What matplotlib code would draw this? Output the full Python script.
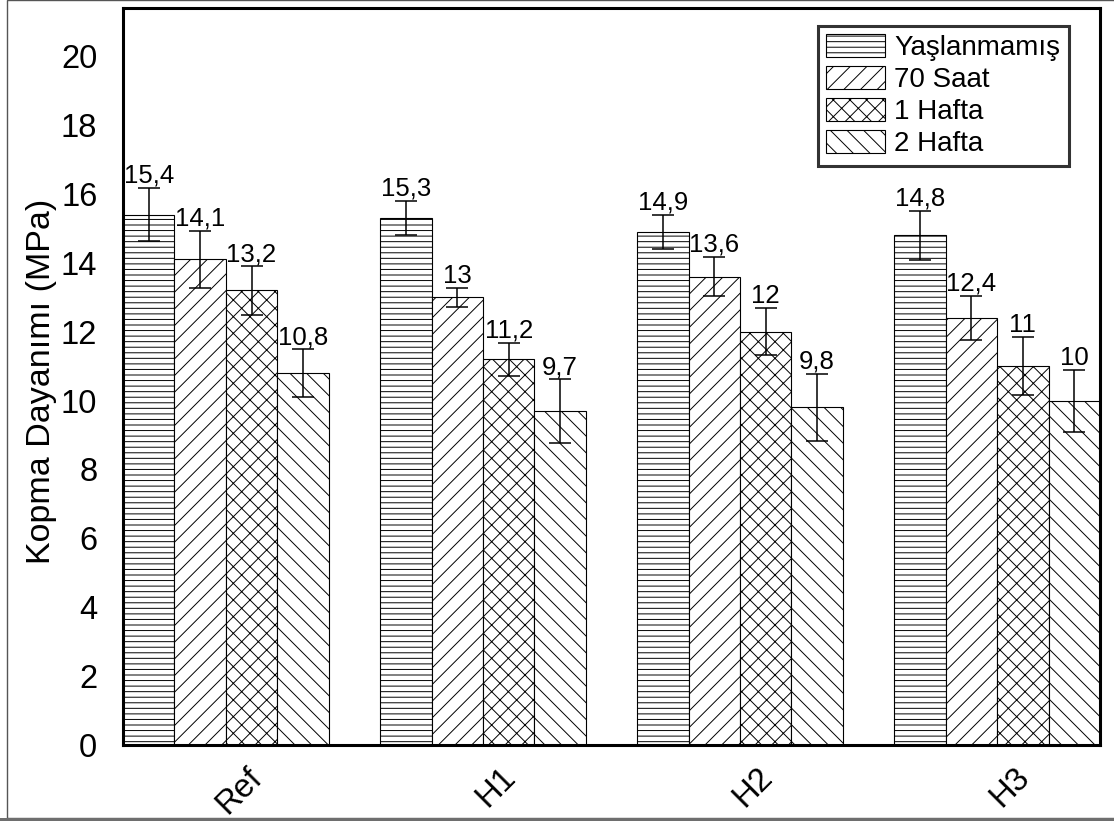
import matplotlib
matplotlib.use("Agg")
import matplotlib.pyplot as plt
import matplotlib.transforms as mtransforms
from matplotlib.patches import Rectangle
import numpy as np

plt.rcParams['font.family'] = ['Liberation Sans', 'DejaVu Sans']
plt.rcParams['hatch.linewidth'] = 0.7

# Data
groups = ['Ref', 'H1', 'H2', 'H3']
series = ['Yaşlanmamış', '70 Saat', '1 Hafta', '2 Hafta']
yaslanmamis = [15.4, 15.3, 14.9, 14.8]
saat_70 = [14.1, 13.0, 13.6, 12.4]
hafta_1 = [13.2, 11.2, 12.0, 11.0]
hafta_2 = [10.8, 9.7, 9.8, 10.0]
err_yaslanmamis = [0.78, 0.50, 0.50, 0.72]
err_saat_70 = [0.83, 0.27, 0.57, 0.65]
err_hafta_1 = [0.70, 0.48, 0.68, 0.85]
err_hafta_2 = [0.69, 0.92, 0.98, 0.90]
value_labels = [
    ['15,4', '15,3', '14,9', '14,8'],
    ['14,1', '13', '13,6', '12,4'],
    ['13,2', '11,2', '12', '11'],
    ['10,8', '9,7', '9,8', '10'],
]
y_ticks = [0, 2, 4, 6, 8, 10, 12, 14, 16, 18, 20]

values = [yaslanmamis, saat_70, hafta_1, hafta_2]
errors = [err_yaslanmamis, err_saat_70, err_hafta_1, err_hafta_2]
hatches = ['---', '//', 'xx', '\\\\']

W, H = 1114, 821
fig = plt.figure(figsize=(W / 100, H / 100), dpi=100)
ax = fig.add_axes([123 / W, 76 / H, 977 / W, 737 / H])

x = np.arange(len(groups))
width = 0.2
for i, (vals, errs, hatch, name) in enumerate(zip(values, errors, hatches, series)):
    pos = x - 0.3 + i * width
    ax.bar(pos, vals, width, color='white', edgecolor='black', linewidth=0.8,
           hatch=hatch, label=name, zorder=2)
    ax.errorbar(pos, vals, yerr=errs, fmt='none', ecolor='black',
                elinewidth=1.1, capsize=8, capthick=1.1, zorder=3)
    for p, v, e, lab in zip(pos, vals, errs, value_labels[i]):
        ax.annotate(lab, (p, v + e), xytext=(0, 0), textcoords='offset points',
                    ha='center', va='bottom', fontsize=18.5, zorder=4)

ax.set_xlim(-0.4, 3.4)
ax.set_ylim(0, 21.4)
ax.set_yticks(y_ticks)
ax.set_yticklabels([str(t) for t in y_ticks])
ax.set_xticks(x)
ax.set_xticklabels(groups, rotation=45, ha='center', va='top')
ax.tick_params(axis='both', length=0, labelsize=23.5)
ax.tick_params(axis='y', pad=18.5)
ax.tick_params(axis='x', pad=12)
offset = mtransforms.ScaledTranslation(13 / 100, 0, fig.dpi_scale_trans)
for lbl in ax.get_xticklabels():
    lbl.set_transform(lbl.get_transform() + offset)

for sp in ax.spines.values():
    sp.set_linewidth(2.2)
    sp.set_zorder(5)

ax.set_ylabel('Kopma Dayanımı (MPa)', fontsize=24.5)
ax.yaxis.set_label_coords(57 / W, (821 - 381) / H, transform=fig.transFigure)

leg = ax.legend(loc='upper right', bbox_to_anchor=(0.968, 0.976), borderaxespad=0,
                fontsize=20, frameon=True, fancybox=False, edgecolor='black',
                labelspacing=0.18, handlelength=2.1, handleheight=0.9,
                handletextpad=0.35, borderpad=0.3)
leg.get_frame().set_linewidth(2.2)
leg.set_zorder(6)

# Outer frame of the figure
fig.patches.append(Rectangle((7 / W, 3 / H), 1.2, 1 - 3.5 / H, transform=fig.transFigure,
                             fill=False, edgecolor='#555555', linewidth=1.0))
fig.patches.append(Rectangle((0, 0), 1, 3 / H, transform=fig.transFigure,
                             facecolor='#6e6e6e', edgecolor='none'))

fig.savefig('out.png', dpi=100)
